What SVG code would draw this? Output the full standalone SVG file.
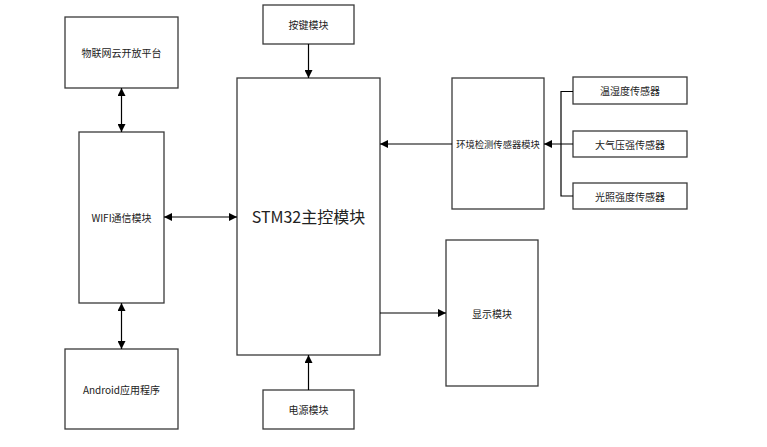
<svg xmlns="http://www.w3.org/2000/svg" width="767" height="447" viewBox="0 0 767 447">
<style>
rect{fill:#fff;stroke:#3a3a3a;stroke-width:1.3}
text{font-family:"Noto Sans CJK SC","Liberation Sans",sans-serif;font-size:10px;fill:#222;text-anchor:middle;dominant-baseline:central}
.big{font-size:16px}
.sm{font-size:9.3px}
.c{fill:none;stroke:#000;stroke-width:1.2}
</style>
<defs>
<marker id="a" viewBox="0 0 10 10" refX="10" refY="5" markerWidth="8" markerHeight="8" markerUnits="userSpaceOnUse" orient="auto-start-reverse"><path d="M0,0L10,5L0,10z" fill="#000"/></marker>
</defs>
<rect width="767" height="447" style="stroke:none"/>
<g id="cloud"><rect x="65" y="17" width="113" height="71"/><text x="121.5" y="52.5">物联网云开放平台</text></g>
<g id="wifi"><rect x="79" y="132" width="85" height="171"/><text x="121.5" y="217">WIFI通信模块</text></g>
<g id="android"><rect x="65" y="349" width="113" height="80"/><text x="121.5" y="389">Android应用程序</text></g>
<g id="stm32"><rect x="237" y="78" width="143" height="277"/><text class="big" x="308.5" y="216">STM32主控模块</text></g>
<g id="key"><rect x="263" y="5" width="91" height="39"/><text x="308.5" y="24.5">按键模块</text></g>
<g id="power"><rect x="263" y="390" width="91" height="39"/><text x="308.5" y="409.5">电源模块</text></g>
<g id="env"><rect x="452" y="78" width="92" height="131"/><text class="sm" x="498" y="143.5">环境检测传感器模块</text></g>
<g id="temp"><rect x="573" y="77" width="114" height="27"/><text x="630" y="90.5">温湿度传感器</text></g>
<g id="press"><rect x="573" y="131" width="114" height="26"/><text x="630" y="144">大气压强传感器</text></g>
<g id="light"><rect x="573" y="183" width="114" height="26"/><text x="630" y="196">光照强度传感器</text></g>
<g id="display"><rect x="446" y="240" width="92" height="146"/><text x="492" y="313">显示模块</text></g>
<g id="connectors">
<path class="c" d="M121.5,88V132" marker-start="url(#a)" marker-end="url(#a)"/>
<path class="c" d="M121.5,303V349" marker-start="url(#a)" marker-end="url(#a)"/>
<path class="c" d="M164,217H237" marker-start="url(#a)" marker-end="url(#a)"/>
<path class="c" d="M308.5,44V78" marker-end="url(#a)"/>
<path class="c" d="M308.5,390V355" marker-end="url(#a)"/>
<path class="c" d="M452,144H380" marker-end="url(#a)"/>
<path class="c" d="M380,313H446" marker-end="url(#a)"/>
<path class="c" d="M573,91.5H561V196H573M573,144H544" marker-end="url(#a)"/>
</g>
</svg>
